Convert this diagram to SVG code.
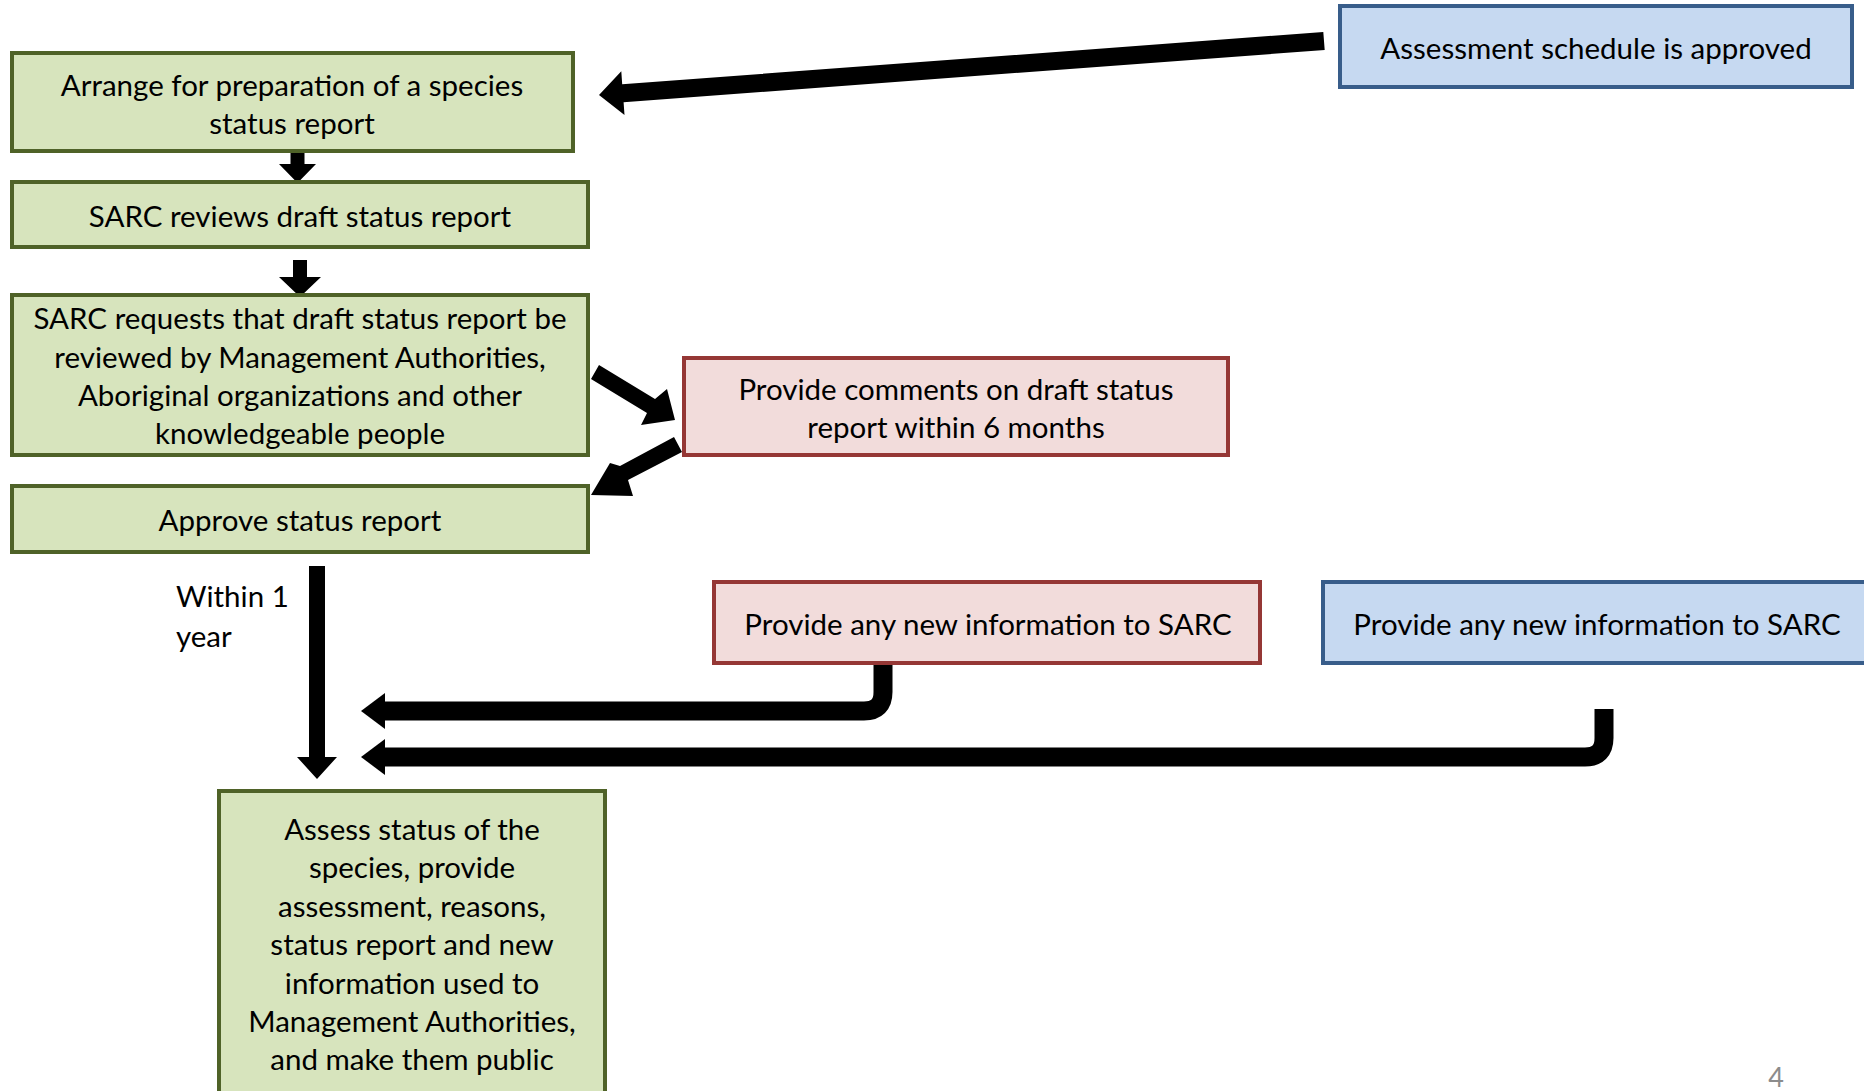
<svg xmlns="http://www.w3.org/2000/svg" width="1864" height="1091" viewBox="0 0 1864 1091">
<style>
.g{fill:#d7e4bd;stroke:#4f6228;stroke-width:4}
.r{fill:#f2dcdb;stroke:#953735;stroke-width:4}
.b{fill:#c6d9f1;stroke:#385d8a;stroke-width:4}
text{font-family:Lato,"Open Sans","Liberation Sans",sans-serif;font-size:29.5px;fill:#000}
.c{text-anchor:middle}
.sh{fill:none;stroke:#000;stroke-width:19;stroke-linecap:butt;stroke-linejoin:round}
.ah{fill:#000}
</style>
<rect width="1864" height="1091" fill="#fff"/>
<g id="connectors">
<polygon class="ah" points="1323.3,32 622.2,84.2 621.3,71.3 599,95 624.5,115.1 623.6,102.2 1324.7,50"/>
<polygon class="ah" points="290.5,151 304.5,151 304.5,164 316,164 297.5,183 279,164 290.5,164"/>
<polygon class="ah" points="293,260 307,260 307,277 321,277 300,297 279,277 293,277"/>
<polygon class="ah" points="591,379 599,365 655,399 667,389 675,420 641,425 647,413"/>
<polygon class="ah" points="674,437 682,452 628,480 633,496 591,495 610,463 620,466"/>
<polygon class="ah" points="309,566 325,566 325,757 337,757 317,779 297,757 309,757"/>
<path class="sh" d="M883 661 V692 Q883 711 864 711 H382"/>
<polygon class="ah" points="385,693 361,711 385,729"/>
<path class="sh" d="M1604 709 V738 Q1604 757 1585 757 H382"/>
<polygon class="ah" points="385,739 361,757 385,775"/>
</g>
<g id="n-arrange">
<rect class="g" x="12" y="53" width="561" height="98"/>
<text class="c" x="292" y="96">Arrange for preparation of a species</text>
<text class="c" x="292" y="134">status report</text>
</g>
<g id="n-reviews">
<rect class="g" x="12" y="182" width="576" height="65"/>
<text class="c" x="300" y="227">SARC reviews draft status report</text>
</g>
<g id="n-requests">
<rect class="g" x="12" y="295" width="576" height="160"/>
<text class="c" x="300" y="329">SARC requests that draft status report be</text>
<text class="c" x="300" y="368">reviewed by Management Authorities,</text>
<text class="c" x="300" y="406">Aboriginal organizations and other</text>
<text class="c" x="300" y="444">knowledgeable people</text>
</g>
<g id="n-approve">
<rect class="g" x="12" y="486" width="576" height="66"/>
<text class="c" x="300" y="531">Approve status report</text>
</g>
<g id="n-comments">
<rect class="r" x="684" y="358" width="544" height="97"/>
<text class="c" x="956" y="400">Provide comments on draft status</text>
<text class="c" x="956" y="438">report within 6 months</text>
</g>
<g id="n-schedule">
<rect class="b" x="1340" y="6" width="512" height="81"/>
<text class="c" x="1596" y="59">Assessment schedule is approved</text>
</g>
<g id="n-newinfo-red">
<rect class="r" x="714" y="582" width="546" height="81"/>
<text class="c" x="988" y="635">Provide any new information to SARC</text>
</g>
<g id="n-newinfo-blue">
<rect class="b" x="1323" y="582" width="560" height="81"/>
<text class="c" x="1597" y="635">Provide any new information to SARC</text>
</g>
<g id="n-assess">
<rect class="g" x="219" y="791" width="386" height="320"/>
<text class="c" x="412" y="840">Assess status of the</text>
<text class="c" x="412" y="878">species, provide</text>
<text class="c" x="412" y="917">assessment, reasons,</text>
<text class="c" x="412" y="955">status report and new</text>
<text class="c" x="412" y="994">information used to</text>
<text class="c" x="412" y="1032">Management Authorities,</text>
<text class="c" x="412" y="1070">and make them public</text>
</g>
<g id="label-within">
<text x="176" y="607">Within 1</text>
<text x="176" y="647">year</text>
</g>
<text x="1776" y="1087" class="c" style="font-size:27px;fill:#8c8c8c">4</text>
</svg>
